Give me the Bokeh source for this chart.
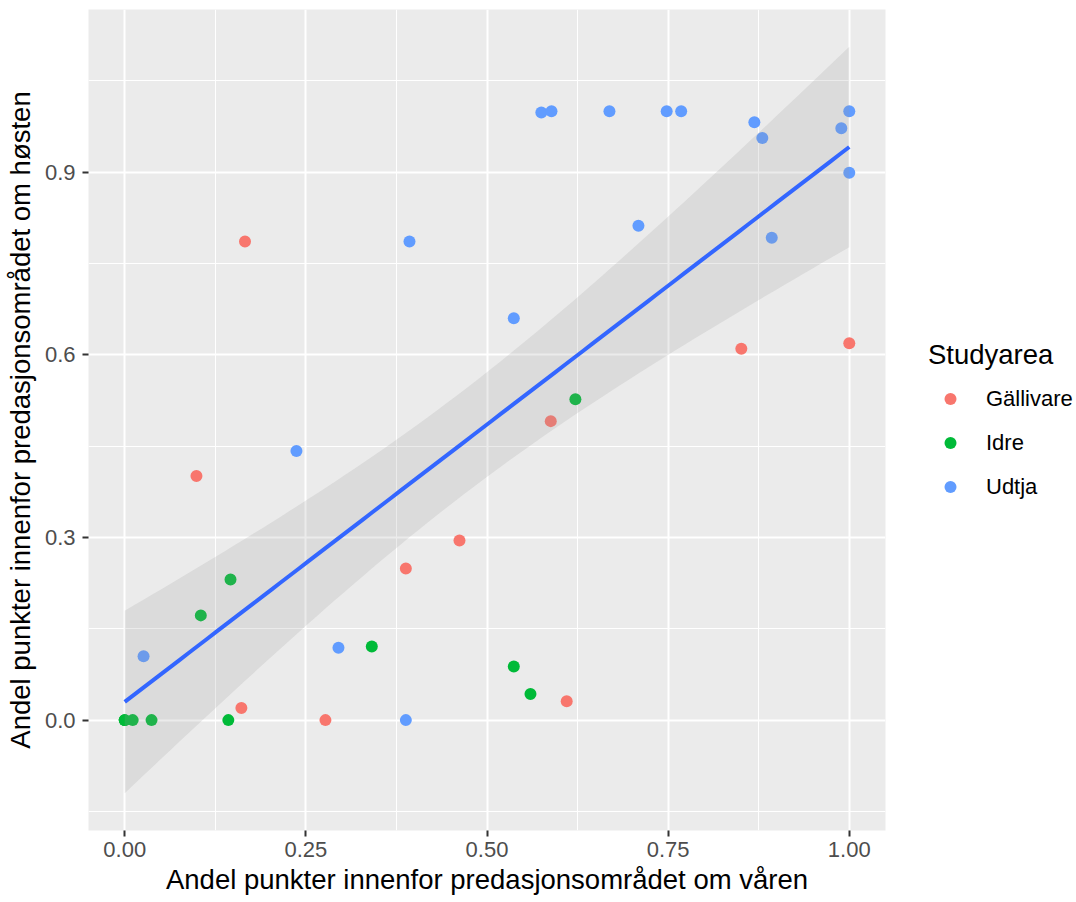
import numpy as np
from bokeh.plotting import figure
from bokeh.models import (ColumnDataSource, FixedTicker, Legend, LegendItem,
                          Range1d, NumeralTickFormatter)
from bokeh.embed import file_html
from bokeh.resources import INLINE

# ---- data (several Idre points overlap at 0,0) ----
areas = ["Gällivare", "Idre", "Udtja"]
area_colors = ["#F8766D", "#00BA38", "#619CFF"]

gal_spring = [0.166, 0.099, 0.161, 0.277, 0.388, 0.462, 0.588, 0.610, 0.851, 1.000]
gal_autumn = [0.786, 0.401, 0.020, 0.000, 0.249, 0.295, 0.491, 0.031, 0.610, 0.619]

idre_spring = [0.000, 0.000, 0.000, 0.011, 0.037, 0.143, 0.105, 0.146, 0.341, 0.537, 0.560, 0.622]
idre_autumn = [0.000, 0.000, 0.000, 0.000, 0.000, 0.000, 0.172, 0.231, 0.121, 0.088, 0.043, 0.527]

udtja_spring = [0.026, 0.237, 0.295, 0.388, 0.393, 0.537, 0.575, 0.589, 0.669, 0.748,
                0.768, 0.709, 0.869, 0.880, 0.893, 0.989, 1.000, 1.000]
udtja_autumn = [0.105, 0.442, 0.119, 0.000, 0.786, 0.660, 0.998, 1.000, 1.000, 1.000,
                1.000, 0.812, 0.982, 0.956, 0.792, 0.972, 1.000, 0.899]

x_ticks = [0.0, 0.25, 0.5, 0.75, 1.0]
y_ticks = [0.0, 0.3, 0.6, 0.9]

x_title = "Andel punkter innenfor predasjonsområdet om våren"
y_title = "Andel punkter innenfor predasjonsområdet om høsten"
legend_title = "Studyarea"

# ---- linear fit with 95% confidence band (geom_smooth(method="lm")) ----
spring = [gal_spring, idre_spring, udtja_spring]
autumn = [gal_autumn, idre_autumn, udtja_autumn]
X = np.array(sum(spring, []), dtype=float)
Y = np.array(sum(autumn, []), dtype=float)
n = len(X)
slope, intercept = np.polyfit(X, Y, 1)
resid = Y - (intercept + slope * X)
s = np.sqrt(np.sum(resid ** 2) / (n - 2))
xbar = X.mean()
sxx = np.sum((X - xbar) ** 2)
# 97.5% t quantile (Cornish-Fisher expansion), df = n - 2
z, nu = 1.959964, n - 2
t975 = z + (z ** 3 + z) / (4 * nu) + (5 * z ** 5 + 16 * z ** 3 + 3 * z) / (96 * nu ** 2)
xf = np.linspace(X.min(), X.max(), 80)
yf = intercept + slope * xf
se = s * np.sqrt(1.0 / n + (xf - xbar) ** 2 / sxx)
lower = yf - t975 * se
upper = yf + t975 * se

ylo = min(lower.min(), Y.min())
yhi = max(upper.max(), Y.max())
ypad = 0.05 * (yhi - ylo)
xlo, xhi = X.min(), X.max()
xpad = 0.05 * (xhi - xlo)

# ---- figure ----
BL, BR, BT, BB = 88, 191, 9, 72
p = figure(frame_width=797, frame_height=821, output_backend="svg", toolbar_location=None,
           x_range=Range1d(xlo - xpad, xhi + xpad),
           y_range=Range1d(ylo - ypad, yhi + ypad),
           min_border_left=BL, min_border_right=BR, min_border_top=BT,
           min_border_bottom=BB)
p.background_fill_color = "#EBEBEB"
p.border_fill_color = "white"
p.outline_line_color = None

# points
renderers = []
for sx, sy, col in zip(spring, autumn, area_colors):
    src = ColumnDataSource(dict(x=sx, y=sy))
    r = p.scatter("x", "y", source=src, size=12, fill_color=col, line_color=None)
    renderers.append(r)

# confidence band and fit line
band = ColumnDataSource(dict(x=xf, lower=lower, upper=upper, y=yf))
p.varea(x="x", y1="lower", y2="upper", source=band, fill_color="#999999", fill_alpha=0.2)
p.line("x", "y", source=band, line_color="#3366FF", line_width=4)

# axes / grid
x_minor = [(a + b) / 2 for a, b in zip(x_ticks[:-1], x_ticks[1:])]
y_step = y_ticks[1] - y_ticks[0]
y_minor = [y_ticks[0] - y_step / 2] + [(a + b) / 2 for a, b in zip(y_ticks[:-1], y_ticks[1:])] + \
          [y_ticks[-1] + y_step / 2]
p.xaxis.ticker = FixedTicker(ticks=x_ticks, minor_ticks=x_minor)
p.yaxis.ticker = FixedTicker(ticks=y_ticks, minor_ticks=y_minor)
p.xaxis.formatter = NumeralTickFormatter(format="0.00")
p.yaxis.formatter = NumeralTickFormatter(format="0.0")

for ax in (p.xaxis, p.yaxis):
    ax.axis_line_color = None
    ax.major_tick_line_color = "#333333"
    ax.major_tick_line_width = 2
    ax.major_tick_out = 6
    ax.major_tick_in = 0
    ax.minor_tick_line_color = None
    ax.major_label_text_font = "Liberation Sans"
    ax.major_label_text_font_size = "22px"
    ax.major_label_text_color = "#4D4D4D"
    ax.axis_label_text_font = "Liberation Sans"
    ax.axis_label_text_font_size = "27.5px"
    ax.axis_label_text_font_style = "normal"
    ax.axis_label_text_color = "black"
p.xaxis.axis_label = x_title
p.yaxis.axis_label = y_title
p.xaxis.major_label_standoff = 5
p.yaxis.major_label_standoff = 7
p.xaxis.axis_label_standoff = 4
p.yaxis.axis_label_standoff = 6

for g in (p.xgrid, p.ygrid):
    g.grid_line_color = "white"
    g.grid_line_width = 2
    g.minor_grid_line_color = "white"
    g.minor_grid_line_width = 1

# legend, in the right-hand side panel
legend = Legend(items=[LegendItem(label=a, renderers=[r]) for a, r in zip(areas, renderers)],
                title=legend_title, location="center_left")
legend.title_text_font = "Liberation Sans"
legend.title_text_font_size = "27.5px"
legend.title_text_font_style = "normal"
legend.title_text_color = "black"
legend.title_standoff = 13
legend.label_text_font = "Liberation Sans"
legend.label_text_font_size = "22px"
legend.label_text_color = "black"
legend.glyph_width = 44
legend.glyph_height = 30
legend.label_height = 30
legend.label_standoff = 14
legend.spacing = 14
legend.padding = 0
legend.margin = 43
legend.border_line_color = None
legend.background_fill_color = None
legend.background_fill_alpha = 0
p.add_layout(legend, "right")

open("out.html", "w").write(file_html(p, INLINE))
